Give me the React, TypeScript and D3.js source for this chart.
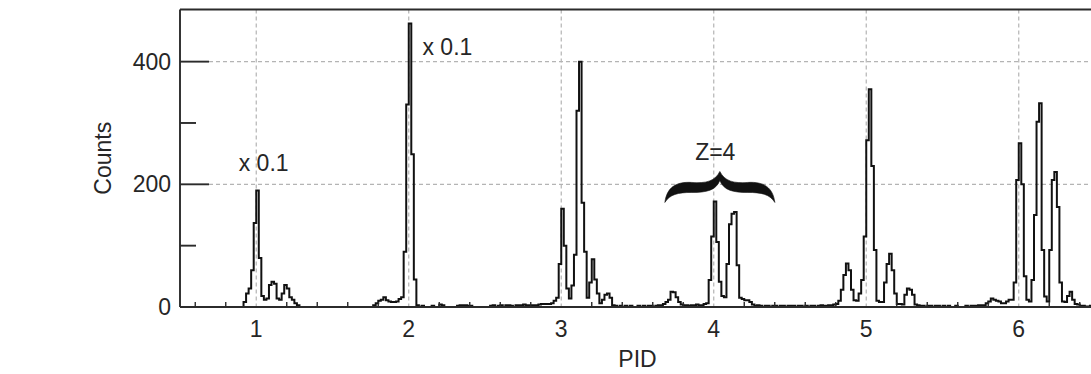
import React from 'react';
import * as d3 from 'd3';

// Histogram of PID, bins of 1/60 unit, one array per unit window [u-0.5, u+0.5)
const binWidth = 1 / 60;
const pidStart = 0.5;

const countsZ1 = [
  0, 0, 0, 0, 0, 0, 0, 0, 0, 0, 0, 0, 0, 0, 0, 0, 0, 0, 0, 0, 0, 0, 0, 0, 0,
  8, 22, 30, 60, 137, 190, 80, 18, 12, 14, 36, 41, 38, 14, 12, 22, 36, 30, 16, 12, 6, 3,
  0, 0, 0, 0, 0, 0, 0, 0, 0, 0, 0, 0, 0,
];
const countsZ2 = [
  0, 0, 0, 0, 0, 0, 0, 0, 0, 0, 0, 0, 0, 0, 0, 0,
  3, 6, 10, 12, 16, 11, 9, 8, 8, 9, 13, 16, 90, 330, 462, 249, 45, 3,
  0, 2, 0, 0, 0, 2, 0, 0, 4, 3, 0, 0, 0, 0, 0, 2, 3, 3, 3, 2, 2, 0, 0, 0, 0, 0,
];
const countsZ3 = [
  0, 0, 2, 3, 0, 2, 3, 0, 3, 3, 2, 0, 3, 3, 3, 4, 3, 3, 3, 3, 3, 4, 5, 5, 5, 5,
  6, 10, 15, 70, 160, 100, 30, 14, 35, 85, 320, 400, 170, 90, 15, 40, 78, 45, 22, 6,
  12, 20, 22, 15, 3, 2, 0, 2, 0, 2, 0, 2, 0, 0,
];
const countsZ4 = [
  2, 0, 2, 0, 2, 2, 0, 2, 3, 3, 5, 8, 12, 25, 24, 16, 8, 4, 3, 3, 2, 3, 3, 4, 3, 3, 5, 6,
  44, 115, 172, 106, 41, 18, 16, 70, 135, 152, 155, 68, 15, 13, 11, 11, 8, 4,
  2, 3, 2, 0, 2, 2, 0, 2, 2, 0, 2, 2, 0, 2,
];
const countsZ5 = [
  2, 2, 0, 2, 2, 0, 2, 0, 2, 2, 0, 2, 3, 2, 2, 3, 3, 4, 5, 10,
  28, 52, 71, 60, 28, 11, 10, 22, 44, 115, 272, 355, 230, 93, 10, 8, 8,
  40, 70, 87, 60, 22, 5, 5, 4, 20, 30, 28, 20, 4,
  3, 2, 2, 0, 2, 2, 0, 2, 2, 0,
];
const countsZ6 = [
  2, 0, 2, 0, 0, 2, 0, 0, 0, 2, 0, 2, 2, 2, 3, 3, 3, 6, 9, 14, 12, 10, 9, 6, 6, 9, 12, 12,
  40, 207, 267, 200, 50, 12, 9, 44, 150, 302, 332, 93, 17, 9, 93, 207, 220, 163, 40,
  9, 8, 18, 25, 12, 5, 4, 2, 2, 1, 1, 2, 1,
];

const yMajorTicks = [0, 200, 400];
const yMinorTicks = [100, 300];
const xTickValues = [1, 2, 3, 4, 5, 6];
const xMinorTicks = [0.6, 0.8, 1.2, 1.4, 1.6, 1.8, 2.2, 2.4, 2.6, 2.8, 3.2, 3.4, 3.6, 3.8,
  4.2, 4.4, 4.6, 4.8, 5.2, 5.4, 5.6, 5.8, 6.2, 6.4];
const xLabel = 'PID';
const yLabel = 'Counts';
const scaleNotes = [
  { text: 'x 0.1', pid: 0.885, count: 235 },
  { text: 'x 0.1', pid: 2.09, count: 424 },
];
const chargeNote = { text: 'Z=4', pid: 4.01, count: 253 };

export default function App() {
  const W = 1091;
  const H = 374;
  const left = 180;
  const right = 1095;
  const top = 9.5;
  const bottom = 307;

  const x = d3.scaleLinear().domain([0.5, 6.5]).range([left, right]);
  const y = d3.scaleLinear().domain([0, 485]).range([bottom, top]);

  const all = [...countsZ1, ...countsZ2, ...countsZ3, ...countsZ4, ...countsZ5, ...countsZ6];
  const pts: [number, number][] = all.map((c, i) => [pidStart + i * binWidth, c]);
  pts.push([pidStart + all.length * binWidth, all[all.length - 1]]);
  const line = d3
    .line<[number, number]>()
    .x((d) => x(d[0]))
    .y((d) => y(d[1]))
    .curve(d3.curveStepAfter);
  const histPath = line(pts) || '';

  const font = '"Liberation Sans", Arial, Helvetica, sans-serif';
  const textColor = '#262626';
  const axisColor = '#2b2b2b';
  const gridColor = '#b4b4b4';
  const fs = 23;

  // brace geometry around Z=4 peaks
  const bc = x(4.04);
  const bt = y(221);
  const hw = 55;
  const yEnd = bt + 31;
  const brace = [
    `M${bc - hw},${yEnd}`,
    `C${bc - hw + 2},${bt + 16} ${bc - hw + 11},${bt + 10} ${bc - 28},${bt + 11}`,
    `C${bc - 14},${bt + 12} ${bc - 5},${bt + 10} ${bc},${bt}`,
    `C${bc + 5},${bt + 10} ${bc + 14},${bt + 12} ${bc + 28},${bt + 11}`,
    `C${bc + hw - 11},${bt + 10} ${bc + hw - 2},${bt + 16} ${bc + hw},${yEnd}`,
    `C${bc + hw - 5},${bt + 23} ${bc + hw - 13},${bt + 21} ${bc + 28},${bt + 21}`,
    `C${bc + 13},${bt + 21} ${bc + 4},${bt + 19} ${bc},${bt + 9}`,
    `C${bc - 4},${bt + 19} ${bc - 13},${bt + 21} ${bc - 28},${bt + 21}`,
    `C${bc - hw + 13},${bt + 21} ${bc - hw + 5},${bt + 23} ${bc - hw},${yEnd}`,
    'Z',
  ].join(' ');

  return (
    <svg
      width={W}
      height={H}
      style={{ position: 'absolute', left: 0, top: 0, background: '#fff' }}
      fontFamily={font}
    >
      <defs>
        <clipPath id="plotClip">
          <rect x={left} y={top - 2} width={right - left} height={bottom - top + 4} />
        </clipPath>
      </defs>
      <rect x={0} y={0} width={W} height={H} fill="#fff" />

      {/* grid */}
      <g stroke={gridColor} strokeWidth={1.2} strokeDasharray="4,3" fill="none">
        {xTickValues.map((v) => (
          <line key={'gx' + v} x1={x(v)} x2={x(v)} y1={top} y2={bottom} />
        ))}
        {yMajorTicks
          .filter((v) => v > 0)
          .map((v) => (
            <line key={'gy' + v} x1={left + 29} x2={right} y1={y(v)} y2={y(v)} />
          ))}
      </g>

      {/* histogram */}
      <path d={histPath} fill="none" stroke="#111" strokeWidth={2} clipPath="url(#plotClip)" />

      {/* frame */}
      <g stroke={axisColor} strokeWidth={1.9} fill="none">
        <line x1={left} x2={left} y1={top} y2={bottom} />
        <line x1={left} x2={right} y1={top} y2={top} />
        <line x1={left} x2={right} y1={bottom} y2={bottom} />
        {yMajorTicks
          .filter((v) => v > 0)
          .map((v) => (
            <line key={'ty' + v} x1={left} x2={left + 29} y1={y(v)} y2={y(v)} />
          ))}
        {yMinorTicks.map((v) => (
          <line key={'tm' + v} x1={left} x2={left + 16} y1={y(v)} y2={y(v)} />
        ))}
        {xMinorTicks.map((v) => (
          <line key={'tx' + v} x1={x(v)} x2={x(v)} y1={bottom} y2={bottom - 5} strokeWidth={1.4} />
        ))}
      </g>

      {/* tick labels */}
      <g fill={textColor} fontSize={fs}>
        {yMajorTicks.map((v) => (
          <text key={'ly' + v} x={left - 9} y={y(v)} textAnchor="end" dominantBaseline="central">
            {v}
          </text>
        ))}
        {xTickValues.map((v) => (
          <text key={'lx' + v} x={x(v)} y={329} textAnchor="middle" dominantBaseline="central">
            {v}
          </text>
        ))}
        <text x={(left + right) / 2} y={359} textAnchor="middle" dominantBaseline="central">
          {xLabel}
        </text>
        <text
          transform={`translate(103, ${(top + bottom) / 2}) rotate(-90)`}
          textAnchor="middle"
          dominantBaseline="central"
        >
          {yLabel}
        </text>
        {scaleNotes.map((n, i) => (
          <text key={'n' + i} x={x(n.pid)} y={y(n.count)} dominantBaseline="central">
            {n.text}
          </text>
        ))}
        <text x={x(chargeNote.pid)} y={y(chargeNote.count)} textAnchor="middle" dominantBaseline="central">
          {chargeNote.text}
        </text>
      </g>

      {/* brace */}
      <path d={brace} fill="#111" stroke="#111" strokeWidth={0.6} strokeLinejoin="round" />
    </svg>
  );
}
